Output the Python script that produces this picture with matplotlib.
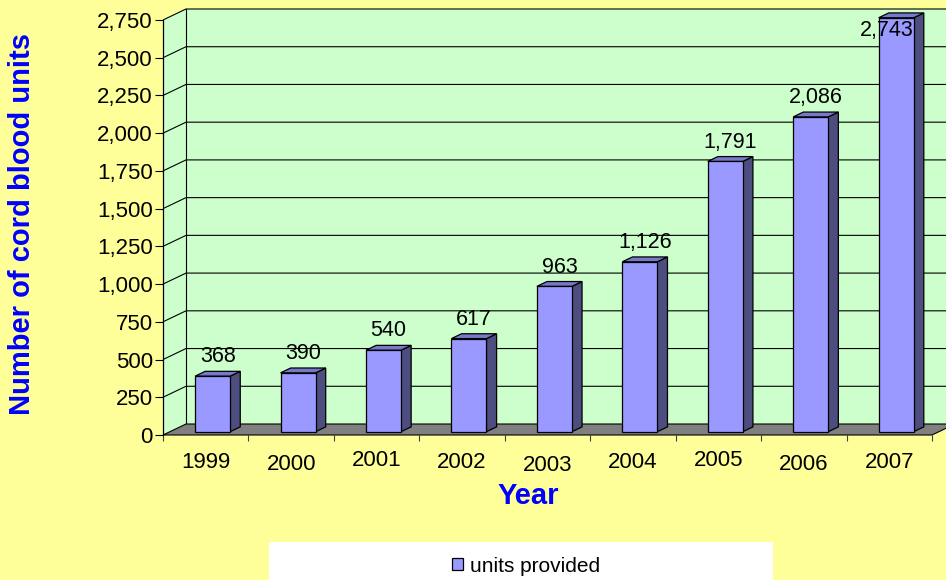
import matplotlib
matplotlib.use("Agg")
import matplotlib.pyplot as plt
from matplotlib.patches import Polygon, Rectangle, Patch
from matplotlib.transforms import offset_copy
import numpy as np

# ---- data ----
years = ["1999", "2000", "2001", "2002", "2003", "2004", "2005", "2006", "2007"]
units = [368, 390, 540, 617, 963, 1126, 1791, 2086, 2743]
yticks = list(range(0, 2751, 250))
series_name = "units provided"

# ---- style ----
BG = "#FFFF99"
WALL = "#CCFFCC"
FLOOR = "#808080"
FRONT = "#9999FF"
TOP = "#7878C8"
SIDE = "#4D4D80"
BLUE = "#0000FF"
plt.rcParams["font.family"] = ["Liberation Sans", "DejaVu Sans"]

W, H = 946, 580
fig = plt.figure(figsize=(W / 100, H / 100), dpi=100, facecolor=BG)
# front plane of the 3-D box: x pixels 163..932, y pixels 435..20
ax = fig.add_axes([163 / W, (H - 435) / H, (932 - 163) / W, 415 / H])
ax.set_facecolor("none")
ncat = len(years)
ymax = yticks[-1]
ax.set_xlim(0, ncat)
ax.set_ylim(0, ymax)

upp = ymax / 415.0           # value units per pixel
cpp = ncat / (932 - 163.0)   # category units per pixel
DX = 23 * cpp                # wall depth (x)
DY = 11 * upp                # wall depth (y)

# walls
ax.add_patch(Rectangle((DX, DY), ncat + 1, ymax, facecolor=WALL, edgecolor="none",
                       zorder=0, clip_on=False))
ax.add_patch(Polygon([(0, 0), (DX, DY), (DX, ymax + DY), (0, ymax)], closed=True,
                     facecolor=WALL, edgecolor="none", zorder=0, clip_on=False))
# gridlines
for t in yticks[1:]:
    ax.plot([0, DX, ncat + 1], [t, t + DY, t + DY], color="black", lw=0.8,
            zorder=1, clip_on=False, solid_capstyle="butt")
ax.plot([DX, DX], [DY, ymax + DY], color="black", lw=0.8, zorder=1, clip_on=False)
# floor
ax.add_patch(Polygon([(0, 0), (ncat, 0), (ncat + DX, DY), (DX, DY)], closed=True,
                     facecolor=FLOOR, edgecolor="black", lw=0.8, zorder=2, clip_on=False))

# bars
f0, f1 = 0.30, 0.74
bw = 0.41
x = np.arange(ncat) + 0.5 + f0 * DX
b0 = f0 * DY
dd = f1 - f0
bars = ax.bar(x, units, width=bw, bottom=b0, color=FRONT, edgecolor="black",
              linewidth=0.9, zorder=5, clip_on=False)
label_cap = (435 - 36) * upp
for xi, v in zip(x, units):
    xl, xr = xi - bw / 2, xi + bw / 2
    top = v + b0
    ax.add_patch(Polygon([(xr, b0), (xr + dd * DX, b0 + dd * DY),
                          (xr + dd * DX, top + dd * DY), (xr, top)], closed=True,
                         facecolor=SIDE, edgecolor="black", lw=0.9, zorder=4, clip_on=False))
    ax.add_patch(Polygon([(xl, top), (xr, top), (xr + dd * DX, top + dd * DY),
                          (xl + dd * DX, top + dd * DY)], closed=True,
                         facecolor=TOP, edgecolor="black", lw=0.9, zorder=4, clip_on=False))
    ly = top + dd * DY + 9 * upp
    txt = f"{v:,}"
    if ly > label_cap:
        ax.text(xr, label_cap, txt, ha="right", va="baseline", fontsize=15.5, zorder=8)
    else:
        ax.text(xi + dd * DX / 2, ly, txt, ha="center", va="baseline", fontsize=15.5, zorder=8)

# axes / ticks
for s in ["top", "right", "bottom"]:
    ax.spines[s].set_visible(False)
ax.spines["left"].set_color("black")
ax.spines["left"].set_linewidth(0.9)
ax.spines["left"].set_zorder(3)
ax.set_yticks(yticks)
ax.set_yticklabels([f"{t:,}" for t in yticks])
ax.tick_params(axis="y", direction="out", length=5.8, width=0.8, pad=1.5,
               labelsize=16, colors="black")
ax.set_xticks(range(ncat + 1))
ax.set_xticklabels([])
ax.tick_params(axis="x", direction="out", length=4.3, width=0.8, color="#404040")

# x category labels (Excel-like slight staggering)
stagger = [0, 3, -1, 0, 3.5, 0, -1, 2, 0]
for i, (lab, off) in enumerate(zip(years, stagger)):
    tr = offset_copy(ax.transData, fig=fig, x=0, y=-(27 + off), units="dots")
    ax.text(i + 0.5, 0, lab, transform=tr, ha="center", va="center", fontsize=16)

# titles
fig.text(22 / W, 1 - 224 / H, "Number of cord blood units", rotation=90,
         ha="center", va="center", fontsize=21, fontweight="bold", color=BLUE)
fig.text(528.5 / W, 1 - 504 / H, "Year", ha="center", va="baseline",
         fontsize=21, fontweight="bold", color=BLUE)

# legend
fig.patches.append(Rectangle((269 / W, 0), 504 / W, 38 / H, transform=fig.transFigure,
                             facecolor="white", edgecolor="none", zorder=0))
handle = Patch(facecolor=FRONT, edgecolor="black", linewidth=0.9)
fig.legend([handle], [series_name], loc="center", bbox_to_anchor=(526 / W, 1 - 566 / H),
           frameon=False, fontsize=15, handlelength=0.55, handleheight=0.55,
           handletextpad=0.35, borderpad=0, borderaxespad=0)

fig.savefig("out.png", dpi=100, facecolor=BG)
